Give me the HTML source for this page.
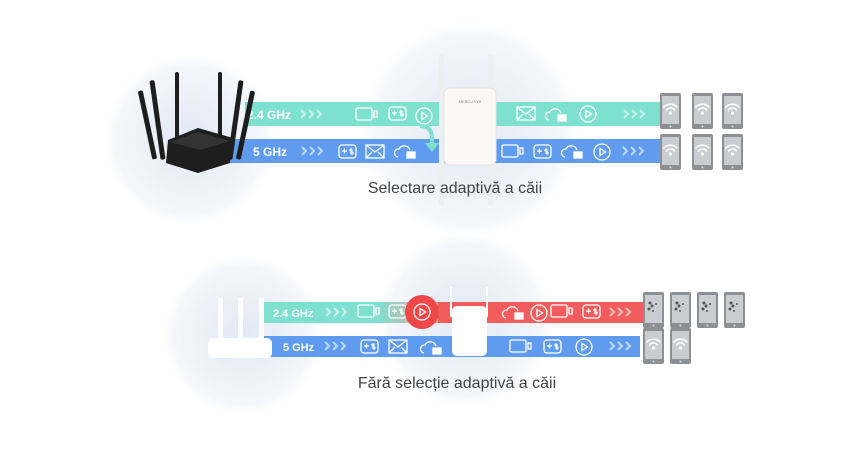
<!DOCTYPE html>
<html><head><meta charset="utf-8"><style>
html,body{margin:0;padding:0;background:#fff;}
svg{display:block;font-family:"Liberation Sans",sans-serif;}
</style></head><body>
<svg width="845" height="458" viewBox="0 0 845 458" xmlns="http://www.w3.org/2000/svg">
<defs>
<radialGradient id="g1"><stop offset="0" stop-color="#e2e9f4"/><stop offset="0.55" stop-color="#edf1f8"/><stop offset="0.85" stop-color="#f5f7fb"/><stop offset="1" stop-color="#fff" stop-opacity="0"/></radialGradient>
<linearGradient id="tr" x1="0" x2="1"><stop offset="0" stop-color="#7ee0cf"/><stop offset="1" stop-color="#f0a0a0"/></linearGradient>
<g id="ph"><rect x="0" y="0" width="21" height="36" rx="2" fill="#8c8f94"/><rect x="2" y="3" width="17" height="28" fill="#c9ccd0"/><circle cx="10.5" cy="33.5" r="1" fill="#ddd"/></g>
<g id="wf" fill="none" stroke="#fff" stroke-width="1.6" stroke-linecap="round"><path d="M4 14a9 9 0 0 1 13 0"/><path d="M6.5 17a5 5 0 0 1 8 0"/><circle cx="10.5" cy="20" r="0.8" fill="#fff"/></g>
<g id="cam" fill="none" stroke="#fff" stroke-width="1.3"><rect x="0" y="0" width="16" height="12" rx="1.5"/><rect x="18" y="3" width="3" height="6"/></g>
<g id="gm" fill="none" stroke="#fff" stroke-width="1.3"><rect x="0" y="0" width="17" height="13" rx="3"/><path d="M3 6h5M5.5 3.5v5"/><circle cx="12" cy="5" r="1"/><circle cx="13" cy="8" r="1"/></g>
<g id="ml" fill="none" stroke="#fff" stroke-width="1.3"><rect x="0" y="0" width="18" height="13"/><path d="M0 0l9 7 9-7M0 13l6-6M18 13l-6-6"/></g>
<g id="cl" fill="none" stroke="#fff" stroke-width="1.3"><path d="M3 13a4 4 0 0 1 1-8 6 6 0 0 1 11 1"/><rect x="12" y="8" width="8" height="6" fill="#fff"/></g>
<g id="pl" fill="none" stroke="#fff" stroke-width="1.3"><circle cx="8" cy="8" r="8"/><path d="M6 4.5v7l5.5-3.5z"/></g>
<g id="ar" fill="none" stroke="#fff" stroke-opacity="0.6" stroke-width="2"><path d="M0 0l4 4-4 4M8 0l4 4-4 4M16 0l4 4-4 4"/></g>
<g id="bug" fill="#555"><circle cx="7" cy="11" r="1.5"/><circle cx="9" cy="14" r="1.5"/><circle cx="6" cy="17" r="1.5"/><circle cx="10" cy="19" r="1"/><circle cx="13" cy="12" r="1"/></g>
</defs>

<!-- glows -->
<circle cx="190" cy="140" r="88" fill="url(#g1)"/>
<circle cx="470" cy="130" r="112" fill="url(#g1)"/>
<circle cx="243" cy="335" r="82" fill="url(#g1)"/>
<circle cx="465" cy="320" r="90" fill="url(#g1)"/>

<!-- TOP bands -->
<rect x="245" y="102" width="415" height="24" fill="#7ee0cf"/>
<rect x="225" y="139" width="435" height="24" fill="#5f9cf0"/>
<text x="247" y="119" font-size="12" font-weight="bold" fill="#fff">2.4 GHz</text>
<text x="253" y="156" font-size="12" font-weight="bold" fill="#fff">5 GHz</text>
<use href="#ar" x="301" y="110"/><use href="#ar" x="302" y="147"/>
<use href="#cam" x="356" y="108"/><use href="#gm" x="389" y="107"/><use href="#pl" x="416" y="108"/>
<use href="#gm" x="339" y="145"/><use href="#ml" x="366" y="145"/><use href="#cl" x="395" y="144"/>
<path d="M420 126q12 0 12 12v6" fill="none" stroke="#7ee0cf" stroke-width="4"/>
<path d="M425 143h14l-7 9z" fill="#7ee0cf"/>
<use href="#ml" x="517" y="107"/><use href="#cl" x="546" y="107"/><use href="#pl" x="580" y="106"/><use href="#ar" x="624" y="110"/>
<use href="#cam" x="502" y="145"/><use href="#gm" x="534" y="145"/><use href="#cl" x="562" y="144"/><use href="#pl" x="594" y="144"/><use href="#ar" x="623" y="147"/>

<!-- router black -->
<g fill="#1e1e1e">
<rect x="145" y="90" width="5" height="70" rx="2" transform="rotate(-12 147 125)"/>
<rect x="155" y="80" width="5" height="80" rx="2" transform="rotate(-8 157 120)"/>
<rect x="175" y="72" width="4" height="80" rx="2"/>
<rect x="218" y="72" width="4" height="80" rx="2"/>
<rect x="233" y="80" width="5" height="80" rx="2" transform="rotate(8 235 120)"/>
<rect x="243" y="90" width="5" height="70" rx="2" transform="rotate(12 245 125)"/>
<path d="M168 140l30-12 35 10-3 25-32 10-32-10z"/>
</g>
<path d="M170 142l28-10 32 9-30 9z" fill="#333"/>

<!-- extender top -->
<rect x="439" y="55" width="5" height="150" rx="2" fill="#eceef0"/>
<rect x="488" y="55" width="5" height="150" rx="2" fill="#eceef0"/>
<rect x="444" y="88" width="52" height="77" rx="6" fill="#fbf9f7" stroke="#e6e3e0"/>
<text x="470" y="103" font-size="4" fill="#888" text-anchor="middle">MERCUSYS</text>

<!-- phones top -->
<g><use href="#ph" x="660" y="93"/><use href="#wf" x="660" y="93"/>
<use href="#ph" x="692" y="93"/><use href="#wf" x="692" y="93"/>
<use href="#ph" x="722" y="93"/><use href="#wf" x="722" y="93"/>
<use href="#ph" x="660" y="134"/><use href="#wf" x="660" y="134"/>
<use href="#ph" x="692" y="134"/><use href="#wf" x="692" y="134"/>
<use href="#ph" x="722" y="134"/><use href="#wf" x="722" y="134"/></g>

<text x="455" y="193" font-size="16" fill="#444" text-anchor="middle">Selectare adaptivă a căii</text>

<!-- BOTTOM bands -->
<rect x="263" y="302" width="115" height="21" fill="#7ee0cf"/>
<rect x="378" y="302" width="60" height="21" fill="url(#tr)"/>
<rect x="438" y="302" width="205" height="21" fill="#f25c5c"/>
<rect x="262" y="336" width="378" height="21" fill="#5f9cf0"/>
<text x="273" y="317" font-size="11" font-weight="bold" fill="#fff">2.4 GHz</text>
<text x="283" y="351" font-size="11" font-weight="bold" fill="#fff">5 GHz</text>
<use href="#ar" x="326" y="308"/><use href="#ar" x="325" y="342"/>
<use href="#cam" x="358" y="305"/><use href="#gm" x="389" y="305"/>
<use href="#gm" x="361" y="340"/><use href="#ml" x="389" y="340"/><use href="#cl" x="421" y="340"/>
<use href="#cl" x="503" y="305"/><use href="#pl" x="531" y="305"/><use href="#cam" x="551" y="305"/><use href="#gm" x="583" y="305"/><use href="#ar" x="610" y="308"/>
<use href="#cam" x="510" y="340"/><use href="#gm" x="544" y="340"/><use href="#pl" x="576" y="339"/><use href="#ar" x="610" y="342"/>
<circle cx="422" cy="312" r="17" fill="#f04848"/>
<g transform="translate(414 304)"><use href="#pl"/></g>

<!-- router white -->
<rect x="218" y="298" width="5" height="45" fill="#fff"/>
<rect x="238" y="298" width="5" height="45" fill="#fff"/>
<rect x="259" y="298" width="5" height="45" fill="#fff"/>
<rect x="208" y="338" width="64" height="20" rx="5" fill="#fff"/>

<!-- extender white -->
<rect x="450" y="287" width="2" height="30" fill="#fff"/>
<rect x="486" y="287" width="2" height="30" fill="#fff"/>
<rect x="452" y="306" width="35" height="50" rx="5" fill="#fff"/>

<!-- phones bottom -->
<g>
<use href="#ph" x="643" y="292"/><use href="#bug" x="643" y="292"/>
<use href="#ph" x="670" y="292"/><use href="#bug" x="670" y="292"/>
<use href="#ph" x="697" y="292"/><use href="#bug" x="697" y="292"/>
<use href="#ph" x="724" y="292"/><use href="#bug" x="724" y="292"/>
<use href="#ph" x="643" y="328"/><use href="#wf" x="643" y="328"/>
<use href="#ph" x="670" y="328"/><use href="#wf" x="670" y="328"/>
</g>

<text x="457" y="388" font-size="16" fill="#444" text-anchor="middle">Fără selecție adaptivă a căii</text>
</svg>
</body></html>
